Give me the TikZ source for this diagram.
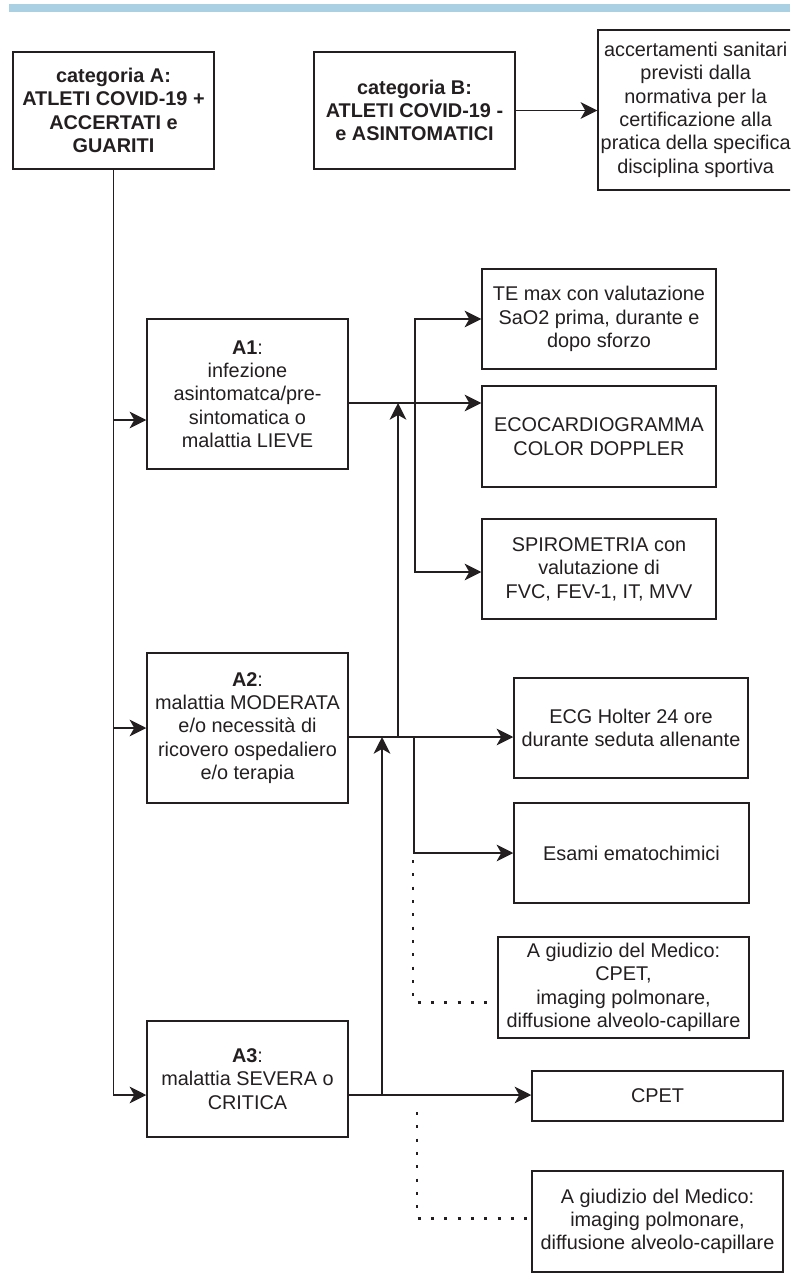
\documentclass[tikz,border=0pt]{standalone}
\usepackage{fontspec}
\setmainfont{Liberation Sans}
\usetikzlibrary{arrows.meta,calc}
\definecolor{ink}{HTML}{231F20}
\definecolor{barblue}{HTML}{A9D1E3}
\begin{document}
\begin{tikzpicture}[x=0.75pt,y=-0.75pt,
  box/.style={draw=ink,line width=1.1pt,rectangle,inner sep=0pt,align=center,text=ink,
    font=\fontsize{14.9pt}{17.5pt}\selectfont},
  boldbox/.style={box,font=\fontsize{14.9pt}{17.5pt}\selectfont\bfseries},
  conn/.style={draw=ink,line width=1.1pt},
  arr/.style={conn,-{Stealth[length=12.5pt,width=12.5pt,inset=3.5pt]}},
  dotline/.style={draw=ink,line width=2.2pt,dash pattern=on 2.2pt off 7.8pt}]
\useasboundingbox (0,0) rectangle (790,1282);
\clip (0,0) rectangle (790,1282);
\fill[barblue] (9,4) rectangle (790,12);

% top row
\node[boldbox,minimum width=201*0.75pt,minimum height=117*0.75pt] (A) at (113.5,110.5)
  {categoria A:\\ATLETI COVID-19 +\\ACCERTATI e\\GUARITI};
\node[boldbox,minimum width=201*0.75pt,minimum height=117*0.75pt] (B) at (414.5,110.5)
  {categoria B:\\ATLETI COVID-19 -\\e ASINTOMATICI};
\node[box,minimum width=206*0.75pt,minimum height=160*0.75pt] (C) at (701,110)
  {\hspace*{-8pt}\begin{tabular}{@{}c@{}}accertamenti sanitari\\previsti dalla\\normativa per la\\certificazione alla\\pratica della specifica\\disciplina sportiva\end{tabular}};

% categories
\node[box,minimum width=201*0.75pt,minimum height=150*0.75pt] (A1) at (247.5,394)
  {\textbf{A1}:\\infezione\\asintomatca/pre-\\sintomatica o\\malattia LIEVE};
\node[box,minimum width=201*0.75pt,minimum height=150*0.75pt] (A2) at (247.5,728)
  {\textbf{A2}:\\malattia MODERATA\\e/o necessità di\\ricovero ospedaliero\\e/o terapia};
\node[box,minimum width=201*0.75pt,minimum height=116*0.75pt] (A3) at (247.5,1079)
  {\textbf{A3}:\\malattia SEVERA o\\CRITICA};

% exams
\node[box,minimum width=234*0.75pt,minimum height=100*0.75pt] (TE) at (599,319)
  {TE max con valutazione\\SaO2 prima, durante e\\dopo sforzo};
\node[box,minimum width=234*0.75pt,minimum height=101*0.75pt] (ECO) at (599,436.5)
  {ECOCARDIOGRAMMA\\COLOR DOPPLER};
\node[box,minimum width=234*0.75pt,minimum height=100*0.75pt] (SPIRO) at (599,569)
  {SPIROMETRIA con\\valutazione di\\FVC, FEV-1, IT, MVV};
\node[box,minimum width=234*0.75pt,minimum height=100*0.75pt] (ECG) at (631,728)
  {ECG Holter 24 ore\\durante seduta allenante};
\node[box,minimum width=235*0.75pt,minimum height=100*0.75pt] (ESA) at (631.5,853)
  {Esami ematochimici};
\node[box,minimum width=251*0.75pt,minimum height=101*0.75pt] (AG1) at (623.5,987.5)
  {A giudizio del Medico:\\CPET,\\imaging polmonare,\\diffusione alveolo-capillare};
\node[box,minimum width=251*0.75pt,minimum height=50*0.75pt] (CPET) at (657.5,1096)
  {CPET};
\node[box,minimum width=251*0.75pt,minimum height=101*0.75pt] (AG2) at (657.5,1221.5)
  {A giudizio del Medico:\\imaging polmonare,\\diffusione alveolo-capillare};

% trunk from A
\draw[arr] (A.south) |- ([yshift=-19.5pt]A1.west);
\draw[arr] (A.south) |- (A2.west);
\draw[arr] (A.south) |- ([yshift=-12pt]A3.west);

% B -> C
\draw[arr] (B.east) -- (B.east -| C.west);

% A1 outputs
\coordinate (a1o) at ([yshift=-6.75pt]A1.east);
\coordinate (j1) at (415,403);
\draw[arr] (a1o) -- (a1o -| ECO.west);
\draw[arr] (j1) |- (TE.west);
\draw[arr] (j1) |- ([yshift=-2.25pt]SPIRO.west);

% A2 outputs
\coordinate (a2o) at ([yshift=-6.75pt]A2.east);
\coordinate (j2a) at (398,737);
\coordinate (j2b) at (414,737);
\draw[arr] (a2o) -- (a2o -| ECG.west);
\draw[arr] (j2a) -- (j2a |- a1o);
\draw[arr] (j2b) |- (ESA.west);
\coordinate (d1) at (413,860);
\draw[dotline] (d1) |- ([yshift=-10.9pt]AG1.west);

% A3 outputs
\coordinate (a3o) at ([yshift=-12pt]A3.east);
\coordinate (j3) at (382,1095);
\draw[arr] (a3o) -- (a3o -| CPET.west);
\draw[arr] (j3) -- (j3 |- a2o);
\coordinate (d2) at (417,1112);
\draw[dotline] (d2) |- ([yshift=2.6pt]AG2.west);
\end{tikzpicture}
\end{document}
